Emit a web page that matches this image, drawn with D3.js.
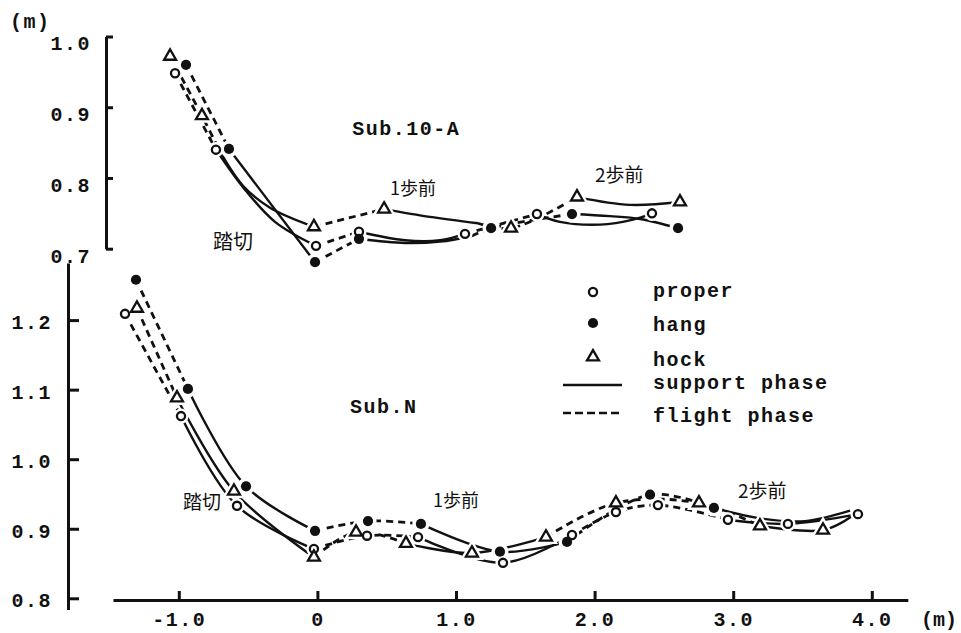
<!DOCTYPE html>
<html><head><meta charset="utf-8">
<script src="https://cdn.jsdelivr.net/npm/d3@7"></script>
<style>body{margin:0;background:#fff}svg{display:block}</style>
</head><body>
<svg id="c" width="961" height="633"></svg>
<script>
// ---------- tick labels ----------
const xTicks = [-1, 0, 1, 2, 3, 4];
const xTickLabels = ["-1.0", "0", "1.0", "2.0", "3.0", "4.0"];
const topYTicks = [1.0, 0.9, 0.8, 0.7];
const topYTickLabels = ["1.0", "0.9", "0.8", "0.7"];
const botYTicks = [1.2, 1.1, 1.0, 0.9, 0.8];
const botYTickLabels = ["1.2", "1.1", "1.0", "0.9", "0.8"];
const seriesNames = ["proper", "hang", "hock"];
const phaseNames = ["support phase", "flight phase"];
const panelTitles = ["Sub.10-A", "Sub.N"];

// ---------- Sub.10-A (upper panel) ----------
// phase[i] = phase of the segment from point i to point i+1 (s = support, f = flight)
const topProperX = [-1.027, -0.732, -0.537, -0.306, -0.010, 0.300, 0.632, 0.885, 1.065, 1.584, 1.750, 2.039, 2.277, 2.414];
const topProperY = [0.948, 0.840, 0.787, 0.738, 0.704, 0.724, 0.712, 0.712, 0.721, 0.749, 0.738, 0.734, 0.741, 0.750];
const topProperMark = [1, 1, 0, 0, 1, 1, 0, 0, 1, 1, 0, 0, 0, 1];
const topProperPhase = ["f", "s", "s", "s", "f", "s", "s", "s", "f", "s", "s", "s", "s"];

const topHangX = [-0.948, -0.638, -0.017, 0.300, 0.632, 0.885, 1.115, 1.253, 1.837, 2.111, 2.328, 2.602];
const topHangY = [0.960, 0.841, 0.681, 0.714, 0.708, 0.710, 0.718, 0.729, 0.749, 0.746, 0.742, 0.729];
const topHangMark = [1, 1, 1, 1, 0, 0, 0, 1, 1, 0, 0, 1];
const topHangPhase = ["f", "s", "f", "s", "s", "s", "f", "f", "s", "s", "s"];

const topHockX = [-1.063, -0.833, -0.696, -0.537, -0.342, -0.025, 0.481, 0.812, 1.159, 1.397, 1.873, 2.255, 2.616];
const topHockY = [0.972, 0.888, 0.835, 0.789, 0.758, 0.731, 0.756, 0.745, 0.736, 0.729, 0.773, 0.762, 0.766];
const topHockMark = [1, 1, 0, 0, 0, 1, 1, 0, 0, 1, 1, 0, 1];
const topHockPhase = ["f", "f", "s", "s", "s", "f", "s", "s", "f", "f", "s", "s"];

// ---------- Sub.N (lower panel) ----------
const botProperX = [-1.388, -0.984, -0.580, -0.025, 0.358, 0.726, 1.339, 1.837, 2.154, 2.457, 2.962, 3.395, 3.900];
const botProperY = [1.209, 1.062, 0.933, 0.871, 0.890, 0.888, 0.851, 0.891, 0.924, 0.934, 0.913, 0.907, 0.921];
const botProperMark = [1, 1, 1, 1, 1, 1, 1, 1, 1, 1, 1, 1, 1];
const botProperPhase = ["f", "s", "s", "f", "f", "s", "s", "f", "f", "f", "s", "s"];

const botHangX = [-1.309, -0.934, -0.515, -0.017, 0.365, 0.747, 1.317, 1.801, 2.400, 2.861, 3.193, 3.518, 3.843];
const botHangY = [1.258, 1.101, 0.961, 0.897, 0.911, 0.907, 0.867, 0.881, 0.949, 0.930, 0.915, 0.911, 0.926];
const botHangMark = [1, 1, 1, 1, 1, 1, 1, 1, 1, 1, 0, 0, 0];
const botHangPhase = ["f", "s", "s", "f", "f", "s", "s", "f", "f", "s", "s", "s"];

const botHockX = [-1.302, -1.013, -0.602, -0.025, 0.279, 0.639, 1.115, 1.649, 2.154, 2.753, 3.193, 3.648, 3.857];
const botHockY = [1.217, 1.088, 0.954, 0.859, 0.895, 0.879, 0.865, 0.888, 0.937, 0.937, 0.904, 0.898, 0.918];
const botHockMark = [1, 1, 1, 1, 1, 1, 1, 1, 1, 1, 1, 1, 0];
const botHockPhase = ["f", "s", "s", "f", "f", "s", "s", "f", "f", "f", "s", "s"];

// ---------- annotations (data units) ----------
const topNoteText = ["踏切", "1歩前", "2歩前"];
const topNoteX = [-0.753, 0.524, 2.003];
const topNoteY = [0.712, 0.787, 0.806];
const botNoteText = ["踏切", "1歩前", "2歩前"];
const botNoteX = [-0.970, 0.834, 3.035];
const botNoteY = [0.940, 0.943, 0.956];

// ---------- drawing ----------
const INK = "#111";
const MONO = "'Liberation Mono','DejaVu Sans Mono',monospace";
const CJK = "'Noto Sans CJK JP','Noto Sans CJK SC',sans-serif";
const svg = d3.select("#c");
svg.append("rect").attr("width", 961).attr("height", 633).attr("fill", "#fff");

const x = d3.scaleLinear().domain([-1, 4]).range([178.8, 871.8]);
const yTop = d3.scaleLinear().domain([0.7, 1.0]).range([248.7, 36.5]);
const yBot = d3.scaleLinear().domain([0.8, 1.2]).range([598.3, 320.1]);

function monoText(sel, size) {
  sel.attr("fill", INK).style("font-family", MONO).style("font-weight", "bold")
     .style("font-size", (size || 20) + "px").style("letter-spacing", "1.5px");
}
function styleAxis(g) {
  g.select(".domain").attr("stroke", INK).attr("stroke-width", 3);
  g.selectAll(".tick line").attr("stroke", INK).attr("stroke-width", 3);
  g.selectAll(".tick text").call(monoText);
}

// upper y axis
const gTop = svg.append("g").attr("transform", "translate(106,0)")
  .call(d3.axisLeft(yTop).tickValues(topYTicks).tickFormat((d, i) => topYTickLabels[i])
    .tickSizeInner(-7).tickSizeOuter(0).tickPadding(15));
styleAxis(gTop);
gTop.selectAll(".tick text").attr("transform", "translate(0,7)");

// lower y axis (line runs a little beyond the ticks)
const yBotAxisScale = yBot.copy().domain([0.784, 1.282]).range([yBot(0.784), yBot(1.282)]);
const gBot = svg.append("g").attr("transform", "translate(68,0)")
  .call(d3.axisLeft(yBotAxisScale).tickValues(botYTicks).tickFormat((d, i) => botYTickLabels[i])
    .tickSizeInner(-11).tickSizeOuter(0).tickPadding(16));
styleAxis(gBot);
gBot.selectAll(".tick text").attr("transform", "translate(0,2)");

// x axis
const xAxisScale = x.copy().domain([-1.475, 4.26]).range([x(-1.475), x(4.26)]);
const gX = svg.append("g").attr("transform", "translate(0,600)")
  .call(d3.axisBottom(xAxisScale).tickValues(xTicks).tickFormat((d, i) => xTickLabels[i])
    .tickSizeInner(-9).tickSizeOuter(0).tickPadding(12));
styleAxis(gX);

// unit labels
svg.append("text").attr("x", 10).attr("y", 28).text("(m)").call(monoText);
svg.append("text").attr("x", 921).attr("y", 626).text("(m)").call(monoText)
  .style("letter-spacing", "0px");

// panel titles
svg.append("text").attr("x", x(0.252)).attr("y", yTop(0.861)).text(panelTitles[0]).call(monoText);
svg.append("text").attr("x", x(0.235)).attr("y", yBot(1.066)).text(panelTitles[1]).call(monoText);

// series assembly
function mk(name, X, Y, M, P) {
  return { name, pts: X.map((v, i) => ({ x: v, y: Y[i], m: M[i] })), phase: P };
}
const panels = [
  { ys: yTop, series: [
    mk("proper", topProperX, topProperY, topProperMark, topProperPhase),
    mk("hang", topHangX, topHangY, topHangMark, topHangPhase),
    mk("hock", topHockX, topHockY, topHockMark, topHockPhase)] },
  { ys: yBot, series: [
    mk("proper", botProperX, botProperY, botProperMark, botProperPhase),
    mk("hang", botHangX, botHangY, botHangMark, botHangPhase),
    mk("hock", botHockX, botHockY, botHockMark, botHockPhase)] }
];

function runs(P) {
  const out = []; let start = 0;
  for (let i = 1; i <= P.length; i++) {
    if (i === P.length || P[i] !== P[i - 1]) { out.push({ ph: P[i - 1], from: start, to: i }); start = i; }
  }
  return out;
}

const gLines = svg.append("g");
const gHalo = svg.append("g");
const gMarks = svg.append("g");

const symbolFor = {
  proper: d3.symbol(d3.symbolCircle, 52),
  hang: d3.symbol(d3.symbolCircle, 82),
  hock: d3.symbol(d3.symbolTriangle, 62)
};

panels.forEach(p => {
  const line = d3.line().x(d => x(d.x)).y(d => p.ys(d.y)).curve(d3.curveCatmullRom.alpha(0.5));
  p.series.forEach(s => {
    runs(s.phase).forEach(r => {
      gLines.append("path")
        .attr("d", line(s.pts.slice(r.from, r.to + 1)))
        .attr("fill", "none").attr("stroke", INK)
        .attr("stroke-width", r.ph === "f" ? 2.8 : 2.4)
        .attr("stroke-linecap", "butt")
        .attr("stroke-dasharray", r.ph === "f" ? "7,5" : null);
    });
    const pts = s.pts.filter(d => d.m);
    gHalo.selectAll(null).data(pts).enter().append("path")
      .attr("d", symbolFor[s.name]())
      .attr("transform", d => `translate(${x(d.x)},${p.ys(d.y)})`)
      .attr("fill", "#fff").attr("stroke", "#fff").attr("stroke-width", 7);
    gMarks.selectAll(null).data(pts).enter().append("path")
      .attr("d", symbolFor[s.name]())
      .attr("transform", d => `translate(${x(d.x)},${p.ys(d.y)})`)
      .attr("fill", s.name === "hang" ? INK : "#fff")
      .attr("stroke", INK).attr("stroke-width", s.name === "hang" ? 0 : 2.3);
  });
});

// annotations
function notes(T, X, Y, ys, sizes) {
  T.forEach((t, i) => {
    svg.append("text").attr("x", x(X[i])).attr("y", ys(Y[i]))
      .attr("dominant-baseline", "central").attr("fill", INK)
      .style("font-family", CJK).style("font-size", sizes[i] + "px").text(t);
  });
}
notes(topNoteText, topNoteX, topNoteY, yTop, [20, 18, 19]);
notes(botNoteText, botNoteX, botNoteY, yBot, [19, 18, 19]);

// legend
const leg = svg.append("g");
const legSymX = 593, legTextX = 653;
const legRowsY = [292, 323, 357];
const legTextY = [297, 331, 366];
seriesNames.forEach((n, i) => {
  leg.append("path").attr("d", symbolFor[n]())
    .attr("transform", `translate(${legSymX},${legRowsY[i]})`)
    .attr("fill", n === "hang" ? INK : "#fff").attr("stroke", INK)
    .attr("stroke-width", n === "hang" ? 0 : 2.3);
  leg.append("text").attr("x", legTextX).attr("y", legTextY[i]).text(n).call(monoText);
});
const legLineY = [385, 413], legLineTextY = [389, 422];
phaseNames.forEach((n, i) => {
  leg.append("line").attr("x1", 563).attr("x2", 622).attr("y1", legLineY[i]).attr("y2", legLineY[i])
    .attr("stroke", INK).attr("stroke-width", 2.6)
    .attr("stroke-dasharray", i === 1 ? "8,4" : null);
  leg.append("text").attr("x", legTextX).attr("y", legLineTextY[i]).text(n).call(monoText);
});
</script>
</body></html>
